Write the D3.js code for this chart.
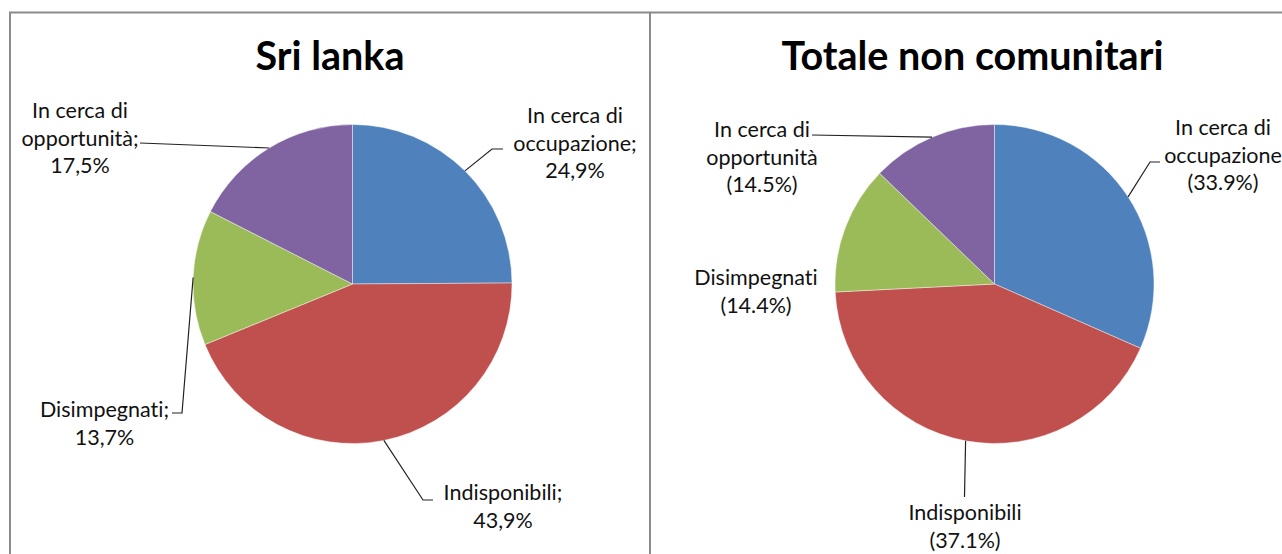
<!DOCTYPE html>
<html>
<head>
<meta charset="utf-8">
<script src="https://cdn.jsdelivr.net/npm/d3@7"></script>
<style>
  html, body { margin: 0; padding: 0; background: #fff; }
  svg { display: block; }
  text { font-family: Lato, "Open Sans", sans-serif; font-variant-ligatures: none; font-feature-settings: "liga" 0, "dlig" 0; }
</style>
</head>
<body>
<svg id="chart" width="1282" height="554"></svg>
<script>
// ---------- data ----------
const categories = ["In cerca di occupazione", "Indisponibili", "Disimpegnati", "In cerca di opportunità"];
const colors = ["#4F81BD", "#C0504D", "#9BBB59", "#8064A2"];

const titles = ["Sri lanka", "Totale non comunitari"];

// Sri Lanka
const sriLankaValues = [24.9, 43.9, 13.7, 17.5];
const sriLankaLabelNames = [["In cerca di", "occupazione;"], ["Indisponibili;"], ["Disimpegnati;"], ["In cerca di", "opportunità;"]];

// Totale non comunitari: slice sizes as drawn, and label values as printed
const totaleSliceValues = [31.6, 42.6, 13.0, 12.8];
const totaleLabelValues = [33.9, 37.1, 14.4, 14.5];
const totaleLabelNames = [["In cerca di", "occupazione"], ["Indisponibili"], ["Disimpegnati"], ["In cerca di", "opportunità"]];

// ---------- layout ----------
const svg = d3.select("#chart");
const R = 159.5;
const lineH = 27.5;

const panels = [
  {
    title: titles[0], titleX: 330, cx: 352.5, cy: 284,
    values: sriLankaValues,
    labelLines: sriLankaLabelNames.map((n, i) => n.concat([sriLankaValues[i].toFixed(1).replace(".", ",") + "%"])),
    labelPos: [[222.5, -161], [150.5, 216], [-248, 133], [-272.5, -166]],
    leaders: [[[139.5, -135], [150.5, -135]], [[70.5, 216], [80.5, 216]], [[-170.5, 129], [-180.5, 129]], [[-212.5, -141]]]
  },
  {
    title: titles[1], titleX: 972.5, cx: 994.5, cy: 284,
    values: totaleSliceValues,
    labelLines: totaleLabelNames.map((n, i) => n.concat(["(" + totaleLabelValues[i].toFixed(1) + "%)"])),
    labelPos: [[228.5, -149], [-29.5, 236], [-238.5, 1], [-232.5, -147]],
    leaders: [[[155.5, -122], [165.5, -122]], [[-30, 213]], null, [[-182.5, -149]]]
  }
];

// panel borders
svg.append("path")
  .attr("d", "M10,600 L10,12.5 L1290,12.5 M650,12.5 L650,600")
  .attr("fill", "none").attr("stroke", "#8a8a8a").attr("stroke-width", 2);

const pie = d3.pie().sort(null).value(d => d);
const arc = d3.arc().innerRadius(0).outerRadius(R);
const edgeArc = d3.arc().innerRadius(R).outerRadius(R);

panels.forEach(p => {
  svg.append("text")
    .attr("x", p.titleX).attr("y", 69.5)
    .attr("text-anchor", "middle")
    .attr("font-size", 39.5).attr("font-weight", 700)
    .attr("fill", "#000")
    .text(p.title);

  const g = svg.append("g").attr("transform", `translate(${p.cx},${p.cy})`);
  const arcs = pie(p.values);

  g.selectAll("path.slice").data(arcs).join("path")
    .attr("class", "slice")
    .attr("d", arc)
    .attr("fill", (d, i) => colors[i])
    .attr("stroke", "#fff").attr("stroke-width", 0.6).attr("stroke-opacity", 0.7);

  arcs.forEach((d, i) => {
    if (p.leaders[i]) {
      const start = edgeArc.centroid(d);
      const pts = [start].concat(p.leaders[i]);
      g.append("path")
        .attr("d", d3.line()(pts))
        .attr("fill", "none").attr("stroke", "#222").attr("stroke-width", 1.2);
    }
    const t = g.append("text")
      .attr("text-anchor", "middle")
      .attr("font-size", 21.5)
      .attr("fill", "#111");
    p.labelLines[i].forEach((line, k) => {
      t.append("tspan")
        .attr("x", p.labelPos[i][0])
        .attr("y", p.labelPos[i][1] + k * lineH)
        .text(line);
    });
  });
});
</script>
</body>
</html>
